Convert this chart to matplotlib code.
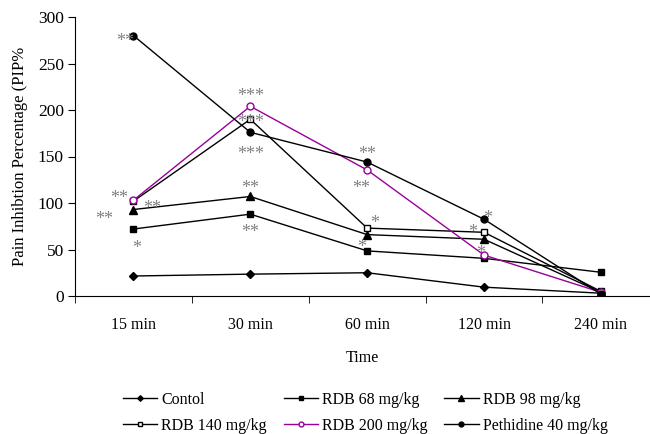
import matplotlib
matplotlib.use('Agg')
import matplotlib.pyplot as plt
import matplotlib.transforms as mtransforms
import numpy as np

plt.rcParams['font.family'] = ['Liberation Serif', 'DejaVu Serif']

# data
times = ['15 min', '30 min', '60 min', '120 min', '240 min']
contol = [21.5, 23.5, 25, 9.5, 3]
rdb68 = [72, 88, 48.5, 40.5, 25.5]
rdb98 = [93, 107, 66, 61, 4]
rdb140 = [102, 190, 73, 68.5, 5]
rdb200 = [103, 204, 135.5, 44, 4]
pethidine = [280, 176, 144, 82.5, 2]

# significance marks: (text, x category index, y value)
marks = [
    ('**', -0.07, 280), ('***', 1.0, 221), ('***', 1.0, 192), ('***', 1.0, 158),
    ('**', 1.0, 122), ('**', 1.0, 74), ('**', -0.12, 111), ('**', 0.16, 100),
    ('**', -0.25, 88), ('*', 0.03, 57), ('**', 2.0, 158), ('**', 1.95, 122),
    ('*', 2.06, 84), ('*', 1.95, 58), ('*', 3.03, 89), ('*', 2.9, 74), ('*', 2.97, 51.5),
]

fig = plt.figure(figsize=(6.5, 4.34), dpi=100)
ax = fig.add_axes([75 / 650, 138 / 434, 575 / 650, 279 / 434])

x = np.arange(len(times))
h1, = ax.plot(x, contol, '-D', color='black', lw=1, ms=4, label='Contol')
h2, = ax.plot(x, rdb68, '-s', color='black', lw=1, ms=5, label='RDB 68 mg/kg')
h3, = ax.plot(x, rdb98, '-^', color='black', lw=1, ms=5.5, label='RDB 98 mg/kg')
h4, = ax.plot(x, rdb140, '-s', color='black', mfc='white', lw=1, ms=5, label='RDB 140 mg/kg')
h5, = ax.plot(x, rdb200, '-o', color='#990099', mfc='white', lw=1, ms=5, label='RDB 200 mg/kg')
h6, = ax.plot(x, pethidine, '-o', color='black', lw=1, ms=5, label='Pethidine 40 mg/kg')

# asterisk glyph sits high, nudge it down a little
shift = ax.transData + mtransforms.ScaledTranslation(0, -4 / 72, fig.dpi_scale_trans)
for txt, mx, my in marks:
    ax.text(mx, my, txt, color='#808080', fontsize=13, ha='center', va='center',
            transform=shift)

ax.set_xlim(-0.5, 4.42)
ax.set_ylim(0, 300)
ax.set_yticks(range(0, 301, 50))
ax.set_xticks(x)
ax.set_xticklabels(times)
ax.set_xticks(np.arange(-0.5, 4.5, 1), minor=True)
ax.tick_params(axis='x', which='major', length=0, pad=15, labelsize=11.5)
ax.tick_params(axis='x', which='minor', length=5, direction='out')
ax.tick_params(axis='y', length=5, direction='out', labelsize=12.5, pad=3)
ax.spines['top'].set_visible(False)
ax.spines['right'].set_visible(False)

ax.set_xlabel('Time', fontsize=11.5, labelpad=12)
ax.set_ylabel('Pain Inhibtion Percentage (PIP%', fontsize=12, labelpad=7)

handles = [h1, h4, h2, h5, h3, h6]
fig.legend(handles=handles, labels=[h.get_label() for h in handles],
           loc='upper left', bbox_to_anchor=(115 / 650, 50 / 434), ncol=3,
           frameon=False, fontsize=11.5, handlelength=2.15, columnspacing=1.05,
           labelspacing=0.6, handletextpad=0.25, borderpad=0, markerscale=0.7)

fig.savefig('out.png', dpi=100)
